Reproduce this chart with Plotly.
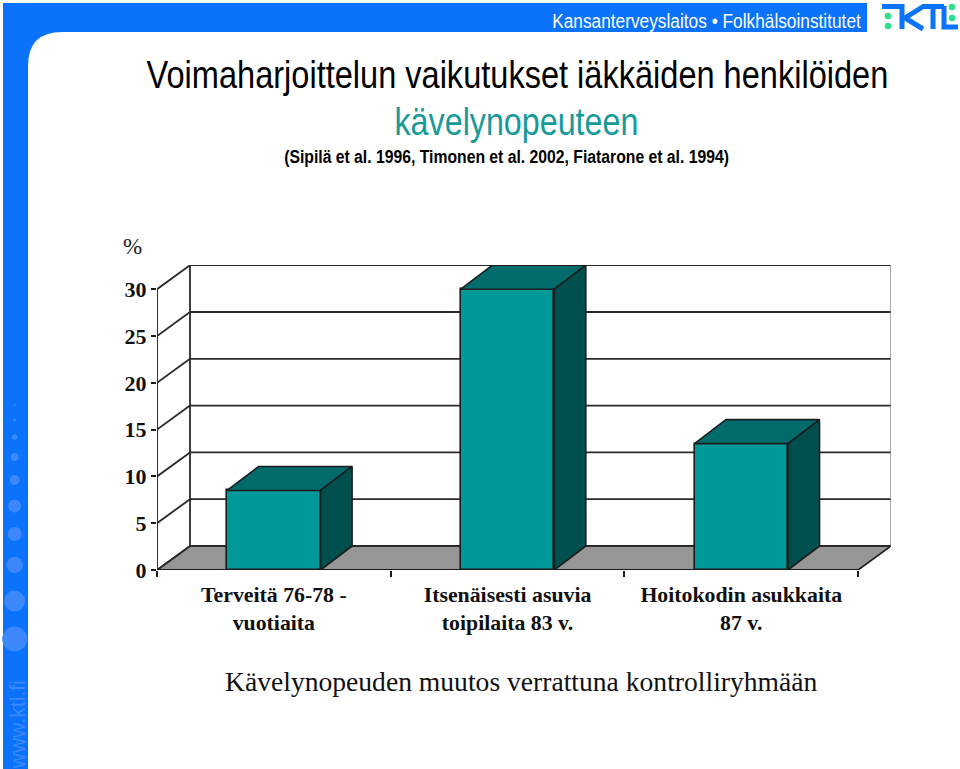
import json
import plotly.graph_objects as go

# ---- data ----
categories = ["Terveitä 76-78 -<br>vuotiaita", "Itsenäisesti asuvia<br>toipilaita 83 v.", "Hoitokodin asukkaita<br>87 v."]
values = [8.5, 30, 13.5]
y_ticks = [0, 5, 10, 15, 20, 25, 30]

title1 = "Voimaharjoittelun vaikutukset iäkkäiden henkilöiden"
title2 = "kävelynopeuteen"
title3 = "(Sipilä et al. 1996, Timonen et al. 2002, Fiatarone et al. 1994)"
x_title = "Kävelynopeuden muutos verrattuna kontrolliryhmään"
header = "Kansanterveyslaitos • Folkhälsoinstitutet"

# ---- geometry / style ----
W, H = 960, 769
PX = 233.7          # px per category
PY = 9.36           # px per value unit
X0, X1 = 157.0, 890.5
Y0, Y1 = 570.0, 265.0
DX = 33.0 / PX      # depth offset in x units
DY = 24.0 / PY      # depth offset in y units
BAR_W = 0.4
BAR_DX = 31.5 / PX
LINE = "#1c1c1c"
GRID = "#2a2a2a"
FRONT, TOP, SIDE = "#009999", "#006b6b", "#004f4f"
FLOOR = "#969696"
BLUE = "#0a72fb"
DOT = "#3b87fb"
SERIF = "Liberation Serif"
NARROW = "Liberation Sans, Arial"

px = lambda x: x / W
py = lambda y: 1 - y / H

xmin, xmax = -0.5, -0.5 + (X1 - X0) / PX
ymax = (Y0 - Y1) / PY
n = len(categories)
xs = list(range(n))

fig = go.Figure()

# front faces
fig.add_trace(go.Bar(x=xs, y=values, width=BAR_W, marker=dict(color=FRONT, line=dict(color=LINE, width=1.6)),
                     showlegend=False, hoverinfo="skip"))

# top and side faces, from the same values
for xc, v in zip(xs, values):
    l, r = xc - BAR_W / 2, xc + BAR_W / 2
    fig.add_trace(go.Scatter(x=[l, r, r + BAR_DX, l + BAR_DX, l], y=[v, v, v + DY, v + DY, v], mode="lines",
                             fill="toself", fillcolor=TOP, line=dict(color=LINE, width=1.6),
                             showlegend=False, hoverinfo="skip"))
    fig.add_trace(go.Scatter(x=[r, r + BAR_DX, r + BAR_DX, r, r], y=[0, DY, v + DY, v, 0], mode="lines",
                             fill="toself", fillcolor=SIDE, line=dict(color=LINE, width=1.6),
                             showlegend=False, hoverinfo="skip"))

shapes = []
def ln(x0, y0, x1, y1, color=GRID, width=1.8):
    shapes.append(dict(type="line", xref="x", yref="y", layer="below", x0=x0, y0=y0, x1=x1, y1=y1,
                       line=dict(color=color, width=width)))

# floor
x_l, x_r = -0.5, n - 0.5
shapes.append(dict(type="path", xref="x", yref="y", layer="below",
                   path=f"M{x_l},0 L{x_l + DX},{DY} L{x_r + DX},{DY} L{x_r},0 Z",
                   fillcolor=FLOOR, line=dict(color=LINE, width=1.6)))
# walls and grid
for t in y_ticks:
    ln(x_l, t, x_l + DX, t + DY)
    ln(x_l + DX, t + DY, x_r + DX, t + DY)
ln(x_l, 0, x_l, max(y_ticks), LINE)
ln(x_l + DX, DY, x_l + DX, max(y_ticks) + DY)
ln(x_r + DX, DY, x_r + DX, max(y_ticks) + DY)
ln(x_l, 0, x_r, 0, LINE, 1.8)

# page furniture (paper coordinates = window pixels)
furn = (f"M{px(3)},{py(3)} L{px(867)},{py(3)} L{px(867)},{py(32)} L{px(62)},{py(32)} "
        f"Q{px(28)},{py(32)} {px(28)},{py(66)} L{px(28)},{py(769)} L{px(3)},{py(769)} Z")
shapes.append(dict(type="path", xref="paper", yref="paper", layer="below", path=furn, fillcolor=BLUE, line=dict(width=0)))
for cy, r in [(392, 0.6), (405, 0.9), (420, 1.7), (437, 2.7), (457, 4), (480, 5), (506, 6.5), (534, 7),
              (565, 8.3), (601, 10.5), (639, 12.5)]:
    shapes.append(dict(type="circle", xref="paper", yref="paper", layer="below",
                       x0=px(14.7 - r), x1=px(14.7 + r), y0=py(cy + r), y1=py(cy - r),
                       fillcolor=DOT, line=dict(width=0)))

# KTL logo
def stroke(pts, color=BLUE, width=5):
    p = "M" + " L".join(f"{px(a)},{py(b)}" for a, b in pts)
    shapes.append(dict(type="path", xref="paper", yref="paper", layer="below", path=p,
                       line=dict(color=color, width=width)))
stroke([(882, 6.5), (902, 6.5), (902, 29)], BLUE, 5)
stroke([(924, 6), (905, 18), (923, 29)], BLUE, 5)
stroke([(922, 6.5), (944, 6.5)], BLUE, 5)
stroke([(933, 6.5), (933, 29)], BLUE, 5)
stroke([(944, 6), (944, 27), (958, 27)], BLUE, 5)
for cx, cy in [(888, 16), (888, 26), (952, 7), (952, 18)]:
    r = 3.3
    shapes.append(dict(type="circle", xref="paper", yref="paper", layer="below", x0=px(cx - r), x1=px(cx + r),
                       y0=py(cy + r), y1=py(cy - r), fillcolor="#2fe08a", line=dict(width=0)))

def txt(text, x, y, size, color, family, anchor="center", **kw):
    return dict(text=text, x=px(x), y=py(y), xref="paper", yref="paper", xanchor=anchor, yanchor="middle",
                showarrow=False, font=dict(size=size, color=color, family=family), **kw)

annotations = [
    txt(title1, 517, 74, 39, "#000000", NARROW),
    txt(title2, 516, 122, 39, "#169a9a", NARROW),
    txt(f"<b>{title3}</b>", 507, 157, 19, "#000000", NARROW),
    txt("%", 132, 246, 23, "#222222", SERIF),
    txt(x_title, 521, 681, 27.6, "#111111", SERIF),
    txt(header, 706, 20, 21, "#ffffff", NARROW),
    txt("www.ktl.fi", 17, 725, 22, "#3b87fb", NARROW, textangle=-90),
]

fig.update_layout(
    width=W, height=H, margin=dict(l=0, r=0, t=0, b=0), paper_bgcolor="white", plot_bgcolor="rgba(0,0,0,0)",
    showlegend=False, shapes=shapes, annotations=annotations, bargap=0,
    xaxis=dict(domain=[px(X0), px(X1)], range=[xmin, xmax], tickmode="array", tickvals=xs, ticktext=categories,
               automargin=False,
               showgrid=False, zeroline=False, showline=False, ticks="", ticklabelstandoff=9,
               tickfont=dict(family=SERIF, size=21.8, color="#111111", weight=700),
               minor=dict(tickmode="array", tickvals=[-0.5, 0.5, 1.5, 2.5], ticks="outside", ticklen=6, tickwidth=1.5,
                          tickcolor=LINE, showgrid=False)),
    yaxis=dict(domain=[py(Y0), py(Y1)], range=[0, ymax], tickmode="array", tickvals=y_ticks, showgrid=False,
               automargin=False,
               zeroline=False, showline=False, ticks="outside", ticklen=5, tickwidth=1.5, tickcolor=LINE,
               ticklabelstandoff=0, tickfont=dict(family=SERIF, size=22, color="#111111", weight=700)),
)

# The reference uses a condensed grotesque that is not installed: squeeze real text to its measured width.
fit_widths = {title1: 742, title2: 244, title3: 445, header: 309, "www.ktl.fi": 88}
post = ("document.body.style.margin='0';document.documentElement.style.overflow='hidden';"
        "var fit=" + json.dumps(fit_widths) + ";"
        "document.querySelectorAll('.annotation-text').forEach(function(t){"
        "var w=fit[t.textContent];if(!w)return;"
        "var s=w/t.getComputedTextLength(),x=parseFloat(t.getAttribute('x'))||0;"
        "t.setAttribute('transform','translate('+x+',0) scale('+s+',1) translate('+(-x)+',0)');});")
fig.write_html("out.html", config=dict(displayModeBar=False), post_script=post)
